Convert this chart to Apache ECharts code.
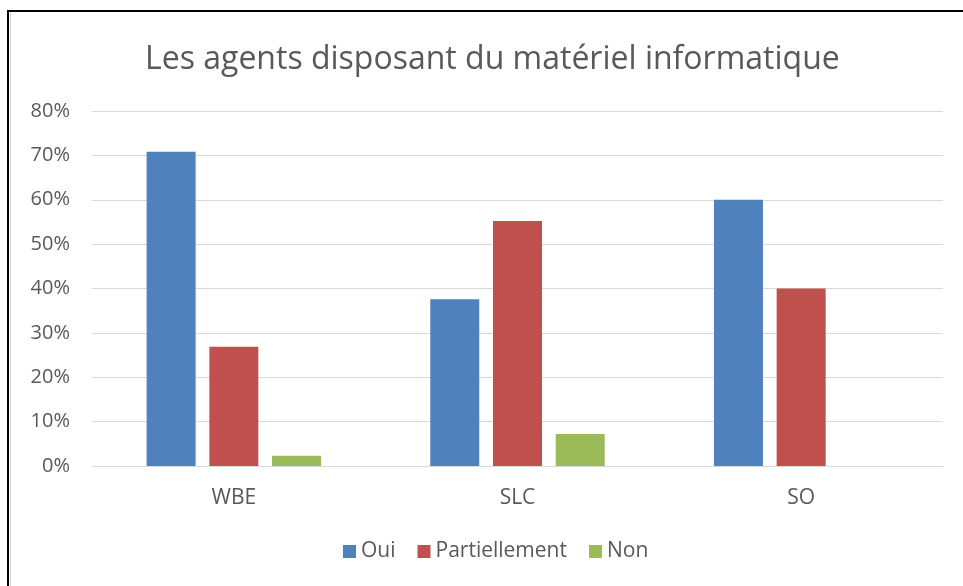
<!DOCTYPE html>
<html>
<head>
<meta charset="utf-8">
<script src="https://cdn.jsdelivr.net/npm/echarts@6/dist/echarts.min.js"></script>
<style>
  html, body { margin: 0; padding: 0; background: #fff; }
  #main { width: 963px; height: 586px; }
</style>
</head>
<body>
<div id="main"></div>
<script>
var categories = ["WBE", "SLC", "SO"];
var oui = [70.8, 37.6, 60.0];
var partiellement = [26.9, 55.2, 40.0];
var non = [2.3, 7.2, 0];
var yTicks = [0, 10, 20, 30, 40, 50, 60, 70, 80];

var chart = echarts.init(document.getElementById("main"));

var labelFont = "'Open Sans', 'DejaVu Sans', sans-serif";

var option = {
  backgroundColor: "#fff",
  animation: false,
  title: {
    text: "Les agents disposant du matériel informatique",
    left: 140,
    top: 39,
    textStyle: {
      color: "#595959",
      fontSize: 32,
      fontWeight: "normal",
      fontFamily: labelFont
    }
  },
  graphic: [
    {
      type: "rect",
      shape: { x: 8, y: 11, width: 960, height: 580 },
      style: { fill: "none", stroke: "#000", lineWidth: 2 }
    },
    {
      type: "line",
      shape: { x1: 10.5, y1: 12, x2: 10.5, y2: 586 },
      style: { stroke: "#d9d9d9", lineWidth: 1 }
    }
  ],
  grid: {
    left: 92,
    right: 20,
    top: 111,
    bottom: 120
  },
  legend: {
    bottom: 19,
    left: 338,
    itemWidth: 13,
    itemHeight: 13,
    itemGap: 22,
    icon: "rect",
    textStyle: {
      color: "#595959",
      fontSize: 21,
      fontFamily: labelFont
    },
    data: ["Oui", "Partiellement", "Non"]
  },
  xAxis: {
    type: "category",
    data: categories,
    axisTick: { show: false },
    axisLine: { lineStyle: { color: "#d9d9d9" } },
    axisLabel: {
      color: "#595959",
      fontSize: 21,
      margin: 22,
      fontFamily: labelFont
    }
  },
  yAxis: {
    type: "value",
    min: yTicks[0],
    max: yTicks[yTicks.length - 1],
    interval: 10,
    axisLine: { show: false },
    axisTick: { show: false },
    splitLine: { lineStyle: { color: "#d9d9d9" } },
    axisLabel: {
      color: "#595959",
      fontSize: 20,
      margin: 22,
      fontFamily: labelFont,
      formatter: function (v) { return v + "%"; }
    }
  },
  series: [
    {
      name: "Oui",
      type: "bar",
      data: oui,
      barWidth: 49,
      barGap: "28%",
      itemStyle: { color: "#4f81bd" }
    },
    {
      name: "Partiellement",
      type: "bar",
      data: partiellement,
      barWidth: 49,
      barGap: "28%",
      itemStyle: { color: "#c0504d" }
    },
    {
      name: "Non",
      type: "bar",
      data: non,
      barWidth: 49,
      barGap: "28%",
      itemStyle: { color: "#9bbb59" }
    }
  ]
};

chart.setOption(option);
</script>
</body>
</html>
